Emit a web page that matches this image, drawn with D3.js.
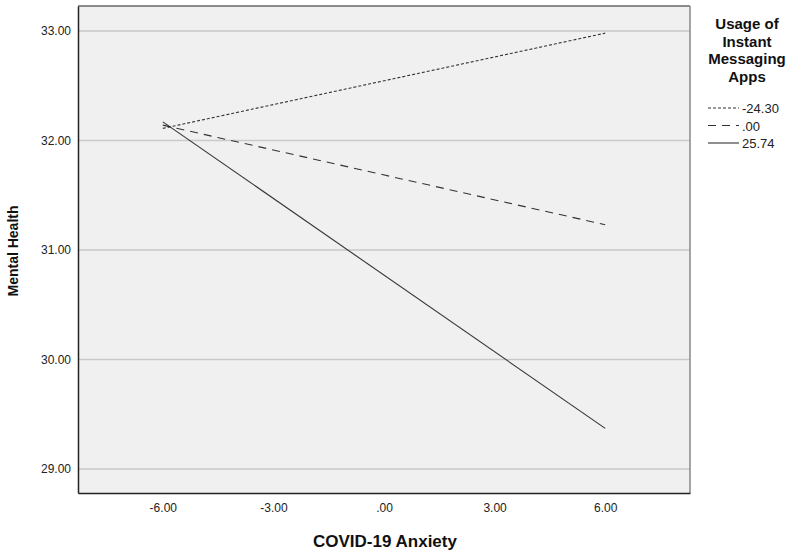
<!DOCTYPE html>
<html>
<head>
<meta charset="utf-8">
<script src="https://cdn.jsdelivr.net/npm/d3@7"></script>
<style>
  body { margin: 0; background: #fff; }
  svg { font-family: "Liberation Sans", Arial, sans-serif; }
</style>
</head>
<body>
<div id="chart"></div>
<script>
// data
var xPoints = [-6, 6];
var groups = ["-24.30", ".00", "25.74"];
var lowValues = [32.11, 32.14, 32.17];
var highValues = [32.98, 31.23, 29.37];
var xTicks = [-6, -3, 0, 3, 6];
var yTicks = [29, 30, 31, 32, 33];
var legendTitle = ["Usage of", "Instant", "Messaging", "Apps"];
var dashes = ["3,2", "8,6", null];

var width = 791, height = 552;
var margin = {top: 6, right: 101, bottom: 59, left: 78};
var w = width - margin.left - margin.right;
var h = height - margin.top - margin.bottom;

var svg = d3.select("#chart").append("svg")
    .attr("width", width)
    .attr("height", height);

var g = svg.append("g").attr("transform", "translate(" + margin.left + "," + margin.top + ")");

var x = d3.scaleLinear().domain([-8.3, 8.3]).range([0, w]);
var y = d3.scaleLinear().domain([28.78, 33.228]).range([h, 0]);

// SPSS style: 2 decimals, no leading zero, plain hyphen
function fmt(v) {
    var s = v.toFixed(2);
    return s.replace(/^0\./, ".").replace(/^-0\./, "-.");
}

// plot background
g.append("rect")
    .attr("width", w).attr("height", h)
    .attr("fill", "#f0f0f0");

// gridlines
g.selectAll(".grid")
    .data(yTicks)
    .enter().append("line")
    .attr("x1", 0).attr("x2", w)
    .attr("y1", d => y(d)).attr("y2", d => y(d))
    .style("stroke", "#c9c9c9")
    .style("stroke-width", 1.5);

// lines
var line = d3.line().x(d => x(d[0])).y(d => y(d[1]));
groups.forEach(function(name, i) {
    var pts = [[xPoints[0], lowValues[i]], [xPoints[1], highValues[i]]];
    g.append("path")
        .datum(pts)
        .attr("d", line)
        .attr("fill", "none")
        .style("stroke", "#333")
        .style("stroke-width", 1.1)
        .style("stroke-dasharray", dashes[i]);
});

// frame
g.append("line").attr("x1", 0).attr("x2", w).attr("y1", 0).attr("y2", 0)
    .style("stroke", "#666").style("stroke-width", 1.5);
g.append("line").attr("x1", w).attr("x2", w).attr("y1", 0).attr("y2", h)
    .style("stroke", "#888").style("stroke-width", 1.5);

// axes
var xAxis = g.append("g")
    .attr("transform", "translate(0," + h + ")")
    .call(d3.axisBottom(x).tickValues(xTicks).tickFormat(fmt).tickSize(0).tickPadding(10));
var yAxis = g.append("g")
    .call(d3.axisLeft(y).tickValues(yTicks).tickFormat(fmt).tickSize(0).tickPadding(7));

[xAxis, yAxis].forEach(function(a) {
    a.select(".domain").style("stroke", "#222").style("stroke-width", 1.5);
    a.selectAll("text")
        .style("font-family", "Liberation Sans, Arial, sans-serif")
        .style("font-size", "12px")
        .style("fill", "#222");
});

// axis titles
svg.append("text")
    .attr("x", 385)
    .attr("y", 547)
    .attr("text-anchor", "middle")
    .style("font-size", "17px")
    .style("font-weight", "bold")
    .style("fill", "#111")
    .text("COVID-19 Anxiety");

svg.append("text")
    .attr("transform", "translate(18,251) rotate(-90)")
    .attr("text-anchor", "middle")
    .style("font-size", "14px")
    .style("font-weight", "bold")
    .style("fill", "#111")
    .text("Mental Health");

// legend
var lg = svg.append("g").attr("transform", "translate(747,0)");
lg.selectAll(".lt")
    .data(legendTitle)
    .enter().append("text")
    .attr("x", 0)
    .attr("y", (d, i) => 29 + i * 17.7)
    .attr("text-anchor", "middle")
    .style("font-size", "15px")
    .style("font-weight", "bold")
    .style("fill", "#111")
    .text(d => d);

var items = lg.selectAll(".li")
    .data(groups)
    .enter().append("g")
    .attr("transform", (d, i) => "translate(0," + (108 + i * 17.5) + ")");
items.append("line")
    .attr("x1", -39).attr("x2", -8)
    .attr("y1", 0).attr("y2", 0)
    .style("stroke", "#333")
    .style("stroke-width", 1.1)
    .style("stroke-dasharray", (d, i) => dashes[i]);
items.append("text")
    .attr("x", -5)
    .attr("y", 5)
    .style("font-size", "13px")
    .style("fill", "#222")
    .text(d => d);
</script>
</body>
</html>
